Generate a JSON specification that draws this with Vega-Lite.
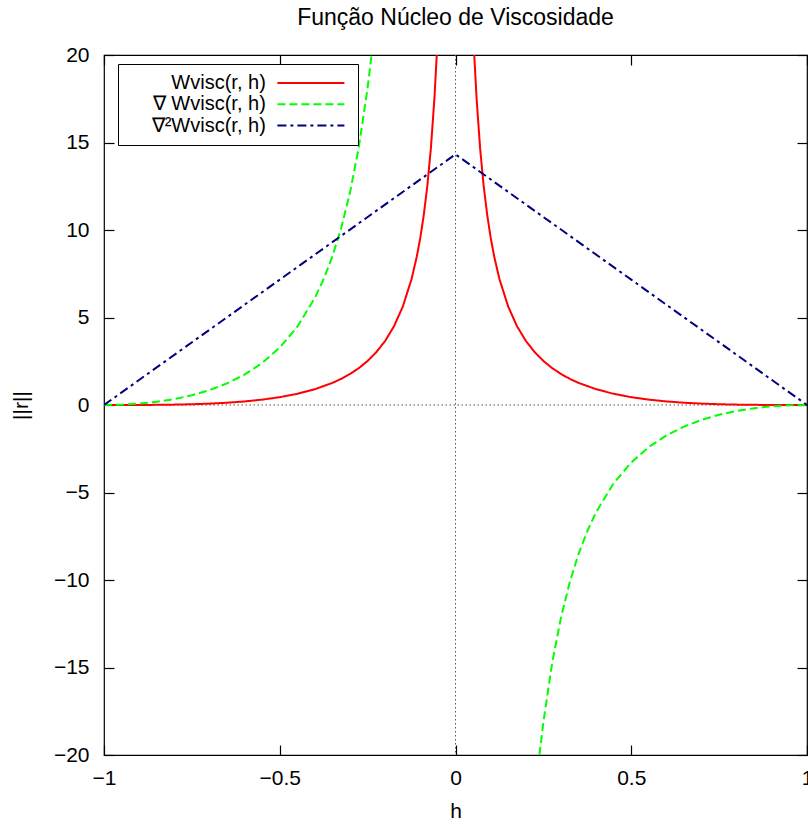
{
  "$schema": "https://vega.github.io/schema/vega-lite/v6.json",
  "width": 703,
  "height": 700,
  "autosize": {"type": "none"},
  "padding": {"left": 104, "top": 55, "right": 1, "bottom": 70},
  "title": {"text": "Função Núcleo de Viscosidade", "fontSize": 23, "font": "Liberation Sans", "fontWeight": "normal", "anchor": "middle", "frame": "group", "baseline": "alphabetic", "offset": -4, "color": "#000"},
  "config": {
    "view": {"stroke": "#000", "strokeWidth": 1.2},
    "font": "Liberation Sans",
    "axis": {"grid": false, "domain": false, "labelFont": "Liberation Sans", "labelFontSize": 21, "labelColor": "#000", "titleFont": "Liberation Sans", "titleFontSize": 21, "titleFontWeight": "normal", "titleColor": "#000", "tickColor": "#000", "tickSize": -10, "tickWidth": 1.2, "labelOverlap": false, "labelFlush": false, "format": "~g"},
    "legend": {"orient": "none", "legendX": 14, "legendY": 9, "symbolType": "M-6,0H6", "symbolSize": 124.7, "symbolStrokeWidth": 2, "symbolOffset": 173.9, "labelAlign": "right", "labelOffset": -55.1, "labelFontSize": 20, "labelFont": "Liberation Sans", "labelColor": "#000", "strokeColor": "#000", "fillColor": "#fff", "padding": 9, "rowPadding": 1.3, "labelLimit": 300}
  },
  "layer": [
    {
      "data": {"values": [{}]},
      "mark": {"type": "rule", "stroke": "#555", "strokeDash": [1.5, 2.5], "strokeWidth": 1},
      "encoding": {"y": {"datum": 0, "type": "quantitative", "axis": null}}
    },
    {
      "data": {"values": [{}]},
      "mark": {"type": "rule", "stroke": "#555", "strokeDash": [1.5, 2.5], "strokeWidth": 1},
      "encoding": {"x": {"datum": 0, "type": "quantitative", "axis": null}}
    },
    {
      "data": {"name": "curves"},
      "mark": {"type": "line", "clip": true, "strokeWidth": 2},
      "encoding": {
        "x": {"field": "h", "type": "quantitative", "scale": {"domain": [-1, 1], "nice": false, "zero": false}, "axis": {"orient": "bottom", "values": [-1, -0.5, 0, 0.5, 1], "title": "h", "labelPadding": 22, "titlePadding": 12}},
        "y": {"field": "v", "type": "quantitative", "scale": {"domain": [-20, 20], "nice": false}, "axis": {"orient": "left", "values": [-20, -15, -10, -5, 0, 5, 10, 15, 20], "title": "||r||", "labelPadding": 25, "titlePadding": 22}},
        "color": {"field": "s", "type": "nominal", "title": null, "scale": {"domain": ["Wvisc(r, h)", "∇ Wvisc(r, h)", "∇²Wvisc(r, h)"], "range": ["#ff0000", "#00ff00", "#000080"]}},
        "strokeDash": {"field": "s", "type": "nominal", "title": null, "scale": {"domain": ["Wvisc(r, h)", "∇ Wvisc(r, h)", "∇²Wvisc(r, h)"], "range": [[1, 0], [8, 4], [9, 4, 3, 4]]}},
        "detail": {"field": "p"}
      }
    },
    {
      "data": {"name": "curves"},
      "mark": {"type": "point", "opacity": 0},
      "encoding": {
        "x": {"field": "h", "type": "quantitative", "axis": {"orient": "top", "values": [-1, -0.5, 0, 0.5, 1], "labels": false, "title": null}},
        "y": {"field": "v", "type": "quantitative", "axis": {"orient": "right", "values": [-20, -15, -10, -5, 0, 5, 10, 15, 20], "labels": false, "title": null}}
      }
    }
  ],
  "resolve": {"axis": {"x": "independent", "y": "independent"}},
  "datasets": {
    "curves": [
      {"h": -1, "v": 0, "s": "Wvisc(r, h)", "p": "l"},
      {"h": -0.95, "v": 0.0003, "s": "Wvisc(r, h)", "p": "l"},
      {"h": -0.9, "v": 0.0025, "s": "Wvisc(r, h)", "p": "l"},
      {"h": -0.85, "v": 0.0088, "s": "Wvisc(r, h)", "p": "l"},
      {"h": -0.8, "v": 0.0215, "s": "Wvisc(r, h)", "p": "l"},
      {"h": -0.75, "v": 0.0435, "s": "Wvisc(r, h)", "p": "l"},
      {"h": -0.7, "v": 0.0783, "s": "Wvisc(r, h)", "p": "l"},
      {"h": -0.65, "v": 0.1299, "s": "Wvisc(r, h)", "p": "l"},
      {"h": -0.6, "v": 0.2037, "s": "Wvisc(r, h)", "p": "l"},
      {"h": -0.55, "v": 0.3065, "s": "Wvisc(r, h)", "p": "l"},
      {"h": -0.5, "v": 0.4476, "s": "Wvisc(r, h)", "p": "l"},
      {"h": -0.45, "v": 0.6399, "s": "Wvisc(r, h)", "p": "l"},
      {"h": -0.4, "v": 0.9024, "s": "Wvisc(r, h)", "p": "l"},
      {"h": -0.35, "v": 1.2644, "s": "Wvisc(r, h)", "p": "l"},
      {"h": -0.325, "v": 1.4967, "s": "Wvisc(r, h)", "p": "l"},
      {"h": -0.3, "v": 1.7742, "s": "Wvisc(r, h)", "p": "l"},
      {"h": -0.275, "v": 2.109, "s": "Wvisc(r, h)", "p": "l"},
      {"h": -0.25, "v": 2.5179, "s": "Wvisc(r, h)", "p": "l"},
      {"h": -0.225, "v": 3.0251, "s": "Wvisc(r, h)", "p": "l"},
      {"h": -0.2, "v": 3.6669, "s": "Wvisc(r, h)", "p": "l"},
      {"h": -0.175, "v": 4.5003, "s": "Wvisc(r, h)", "p": "l"},
      {"h": -0.15, "v": 5.6201, "s": "Wvisc(r, h)", "p": "l"},
      {"h": -0.125, "v": 7.1969, "s": "Wvisc(r, h)", "p": "l"},
      {"h": -0.11, "v": 8.4913, "s": "Wvisc(r, h)", "p": "l"},
      {"h": -0.1, "v": 9.5719, "s": "Wvisc(r, h)", "p": "l"},
      {"h": -0.09, "v": 10.894, "s": "Wvisc(r, h)", "p": "l"},
      {"h": -0.08, "v": 12.548, "s": "Wvisc(r, h)", "p": "l"},
      {"h": -0.07, "v": 14.676, "s": "Wvisc(r, h)", "p": "l"},
      {"h": -0.06, "v": 17.515, "s": "Wvisc(r, h)", "p": "l"},
      {"h": -0.0533, "v": 20.014, "s": "Wvisc(r, h)", "p": "l"},
      {"h": 0.0533, "v": 20.014, "s": "Wvisc(r, h)", "p": "r"},
      {"h": 0.06, "v": 17.515, "s": "Wvisc(r, h)", "p": "r"},
      {"h": 0.07, "v": 14.676, "s": "Wvisc(r, h)", "p": "r"},
      {"h": 0.08, "v": 12.548, "s": "Wvisc(r, h)", "p": "r"},
      {"h": 0.09, "v": 10.894, "s": "Wvisc(r, h)", "p": "r"},
      {"h": 0.1, "v": 9.5719, "s": "Wvisc(r, h)", "p": "r"},
      {"h": 0.11, "v": 8.4913, "s": "Wvisc(r, h)", "p": "r"},
      {"h": 0.125, "v": 7.1969, "s": "Wvisc(r, h)", "p": "r"},
      {"h": 0.15, "v": 5.6201, "s": "Wvisc(r, h)", "p": "r"},
      {"h": 0.175, "v": 4.5003, "s": "Wvisc(r, h)", "p": "r"},
      {"h": 0.2, "v": 3.6669, "s": "Wvisc(r, h)", "p": "r"},
      {"h": 0.225, "v": 3.0251, "s": "Wvisc(r, h)", "p": "r"},
      {"h": 0.25, "v": 2.5179, "s": "Wvisc(r, h)", "p": "r"},
      {"h": 0.275, "v": 2.109, "s": "Wvisc(r, h)", "p": "r"},
      {"h": 0.3, "v": 1.7742, "s": "Wvisc(r, h)", "p": "r"},
      {"h": 0.325, "v": 1.4967, "s": "Wvisc(r, h)", "p": "r"},
      {"h": 0.35, "v": 1.2644, "s": "Wvisc(r, h)", "p": "r"},
      {"h": 0.4, "v": 0.9024, "s": "Wvisc(r, h)", "p": "r"},
      {"h": 0.45, "v": 0.6399, "s": "Wvisc(r, h)", "p": "r"},
      {"h": 0.5, "v": 0.4476, "s": "Wvisc(r, h)", "p": "r"},
      {"h": 0.55, "v": 0.3065, "s": "Wvisc(r, h)", "p": "r"},
      {"h": 0.6, "v": 0.2037, "s": "Wvisc(r, h)", "p": "r"},
      {"h": 0.65, "v": 0.1299, "s": "Wvisc(r, h)", "p": "r"},
      {"h": 0.7, "v": 0.0783, "s": "Wvisc(r, h)", "p": "r"},
      {"h": 0.75, "v": 0.0435, "s": "Wvisc(r, h)", "p": "r"},
      {"h": 0.8, "v": 0.0215, "s": "Wvisc(r, h)", "p": "r"},
      {"h": 0.85, "v": 0.0088, "s": "Wvisc(r, h)", "p": "r"},
      {"h": 0.9, "v": 0.0025, "s": "Wvisc(r, h)", "p": "r"},
      {"h": 0.95, "v": 0.0003, "s": "Wvisc(r, h)", "p": "r"},
      {"h": 1, "v": 0, "s": "Wvisc(r, h)", "p": "r"},
      {"h": -1, "v": 0, "s": "∇ Wvisc(r, h)", "p": "l"},
      {"h": -0.95, "v": 0.0185, "s": "∇ Wvisc(r, h)", "p": "l"},
      {"h": -0.9, "v": 0.0771, "s": "∇ Wvisc(r, h)", "p": "l"},
      {"h": -0.85, "v": 0.1809, "s": "∇ Wvisc(r, h)", "p": "l"},
      {"h": -0.8, "v": 0.3372, "s": "∇ Wvisc(r, h)", "p": "l"},
      {"h": -0.75, "v": 0.5554, "s": "∇ Wvisc(r, h)", "p": "l"},
      {"h": -0.7, "v": 0.8485, "s": "∇ Wvisc(r, h)", "p": "l"},
      {"h": -0.65, "v": 1.2347, "s": "∇ Wvisc(r, h)", "p": "l"},
      {"h": -0.6, "v": 1.7401, "s": "∇ Wvisc(r, h)", "p": "l"},
      {"h": -0.55, "v": 2.4032, "s": "∇ Wvisc(r, h)", "p": "l"},
      {"h": -0.5, "v": 3.2825, "s": "∇ Wvisc(r, h)", "p": "l"},
      {"h": -0.45, "v": 4.4711, "s": "∇ Wvisc(r, h)", "p": "l"},
      {"h": -0.4, "v": 6.1234, "s": "∇ Wvisc(r, h)", "p": "l"},
      {"h": -0.375, "v": 7.2013, "s": "∇ Wvisc(r, h)", "p": "l"},
      {"h": -0.35, "v": 8.5116, "s": "∇ Wvisc(r, h)", "p": "l"},
      {"h": -0.325, "v": 10.1273, "s": "∇ Wvisc(r, h)", "p": "l"},
      {"h": -0.3, "v": 12.1527, "s": "∇ Wvisc(r, h)", "p": "l"},
      {"h": -0.275, "v": 14.7418, "s": "∇ Wvisc(r, h)", "p": "l"},
      {"h": -0.25, "v": 18.1285, "s": "∇ Wvisc(r, h)", "p": "l"},
      {"h": -0.2388, "v": 19.996, "s": "∇ Wvisc(r, h)", "p": "l"},
      {"h": 0.2388, "v": -19.996, "s": "∇ Wvisc(r, h)", "p": "r"},
      {"h": 0.25, "v": -18.1285, "s": "∇ Wvisc(r, h)", "p": "r"},
      {"h": 0.275, "v": -14.7418, "s": "∇ Wvisc(r, h)", "p": "r"},
      {"h": 0.3, "v": -12.1527, "s": "∇ Wvisc(r, h)", "p": "r"},
      {"h": 0.325, "v": -10.1273, "s": "∇ Wvisc(r, h)", "p": "r"},
      {"h": 0.35, "v": -8.5116, "s": "∇ Wvisc(r, h)", "p": "r"},
      {"h": 0.375, "v": -7.2013, "s": "∇ Wvisc(r, h)", "p": "r"},
      {"h": 0.4, "v": -6.1234, "s": "∇ Wvisc(r, h)", "p": "r"},
      {"h": 0.45, "v": -4.4711, "s": "∇ Wvisc(r, h)", "p": "r"},
      {"h": 0.5, "v": -3.2825, "s": "∇ Wvisc(r, h)", "p": "r"},
      {"h": 0.55, "v": -2.4032, "s": "∇ Wvisc(r, h)", "p": "r"},
      {"h": 0.6, "v": -1.7401, "s": "∇ Wvisc(r, h)", "p": "r"},
      {"h": 0.65, "v": -1.2347, "s": "∇ Wvisc(r, h)", "p": "r"},
      {"h": 0.7, "v": -0.8485, "s": "∇ Wvisc(r, h)", "p": "r"},
      {"h": 0.75, "v": -0.5554, "s": "∇ Wvisc(r, h)", "p": "r"},
      {"h": 0.8, "v": -0.3372, "s": "∇ Wvisc(r, h)", "p": "r"},
      {"h": 0.85, "v": -0.1809, "s": "∇ Wvisc(r, h)", "p": "r"},
      {"h": 0.9, "v": -0.0771, "s": "∇ Wvisc(r, h)", "p": "r"},
      {"h": 0.95, "v": -0.0185, "s": "∇ Wvisc(r, h)", "p": "r"},
      {"h": 1, "v": 0, "s": "∇ Wvisc(r, h)", "p": "r"},
      {"h": -1, "v": 0, "s": "∇²Wvisc(r, h)", "p": "a"},
      {"h": -0.5, "v": 7.1620, "s": "∇²Wvisc(r, h)", "p": "a"},
      {"h": 0, "v": 14.3239, "s": "∇²Wvisc(r, h)", "p": "a"},
      {"h": 0.5, "v": 7.1620, "s": "∇²Wvisc(r, h)", "p": "a"},
      {"h": 1, "v": 0, "s": "∇²Wvisc(r, h)", "p": "a"}
    ]
  }
}
